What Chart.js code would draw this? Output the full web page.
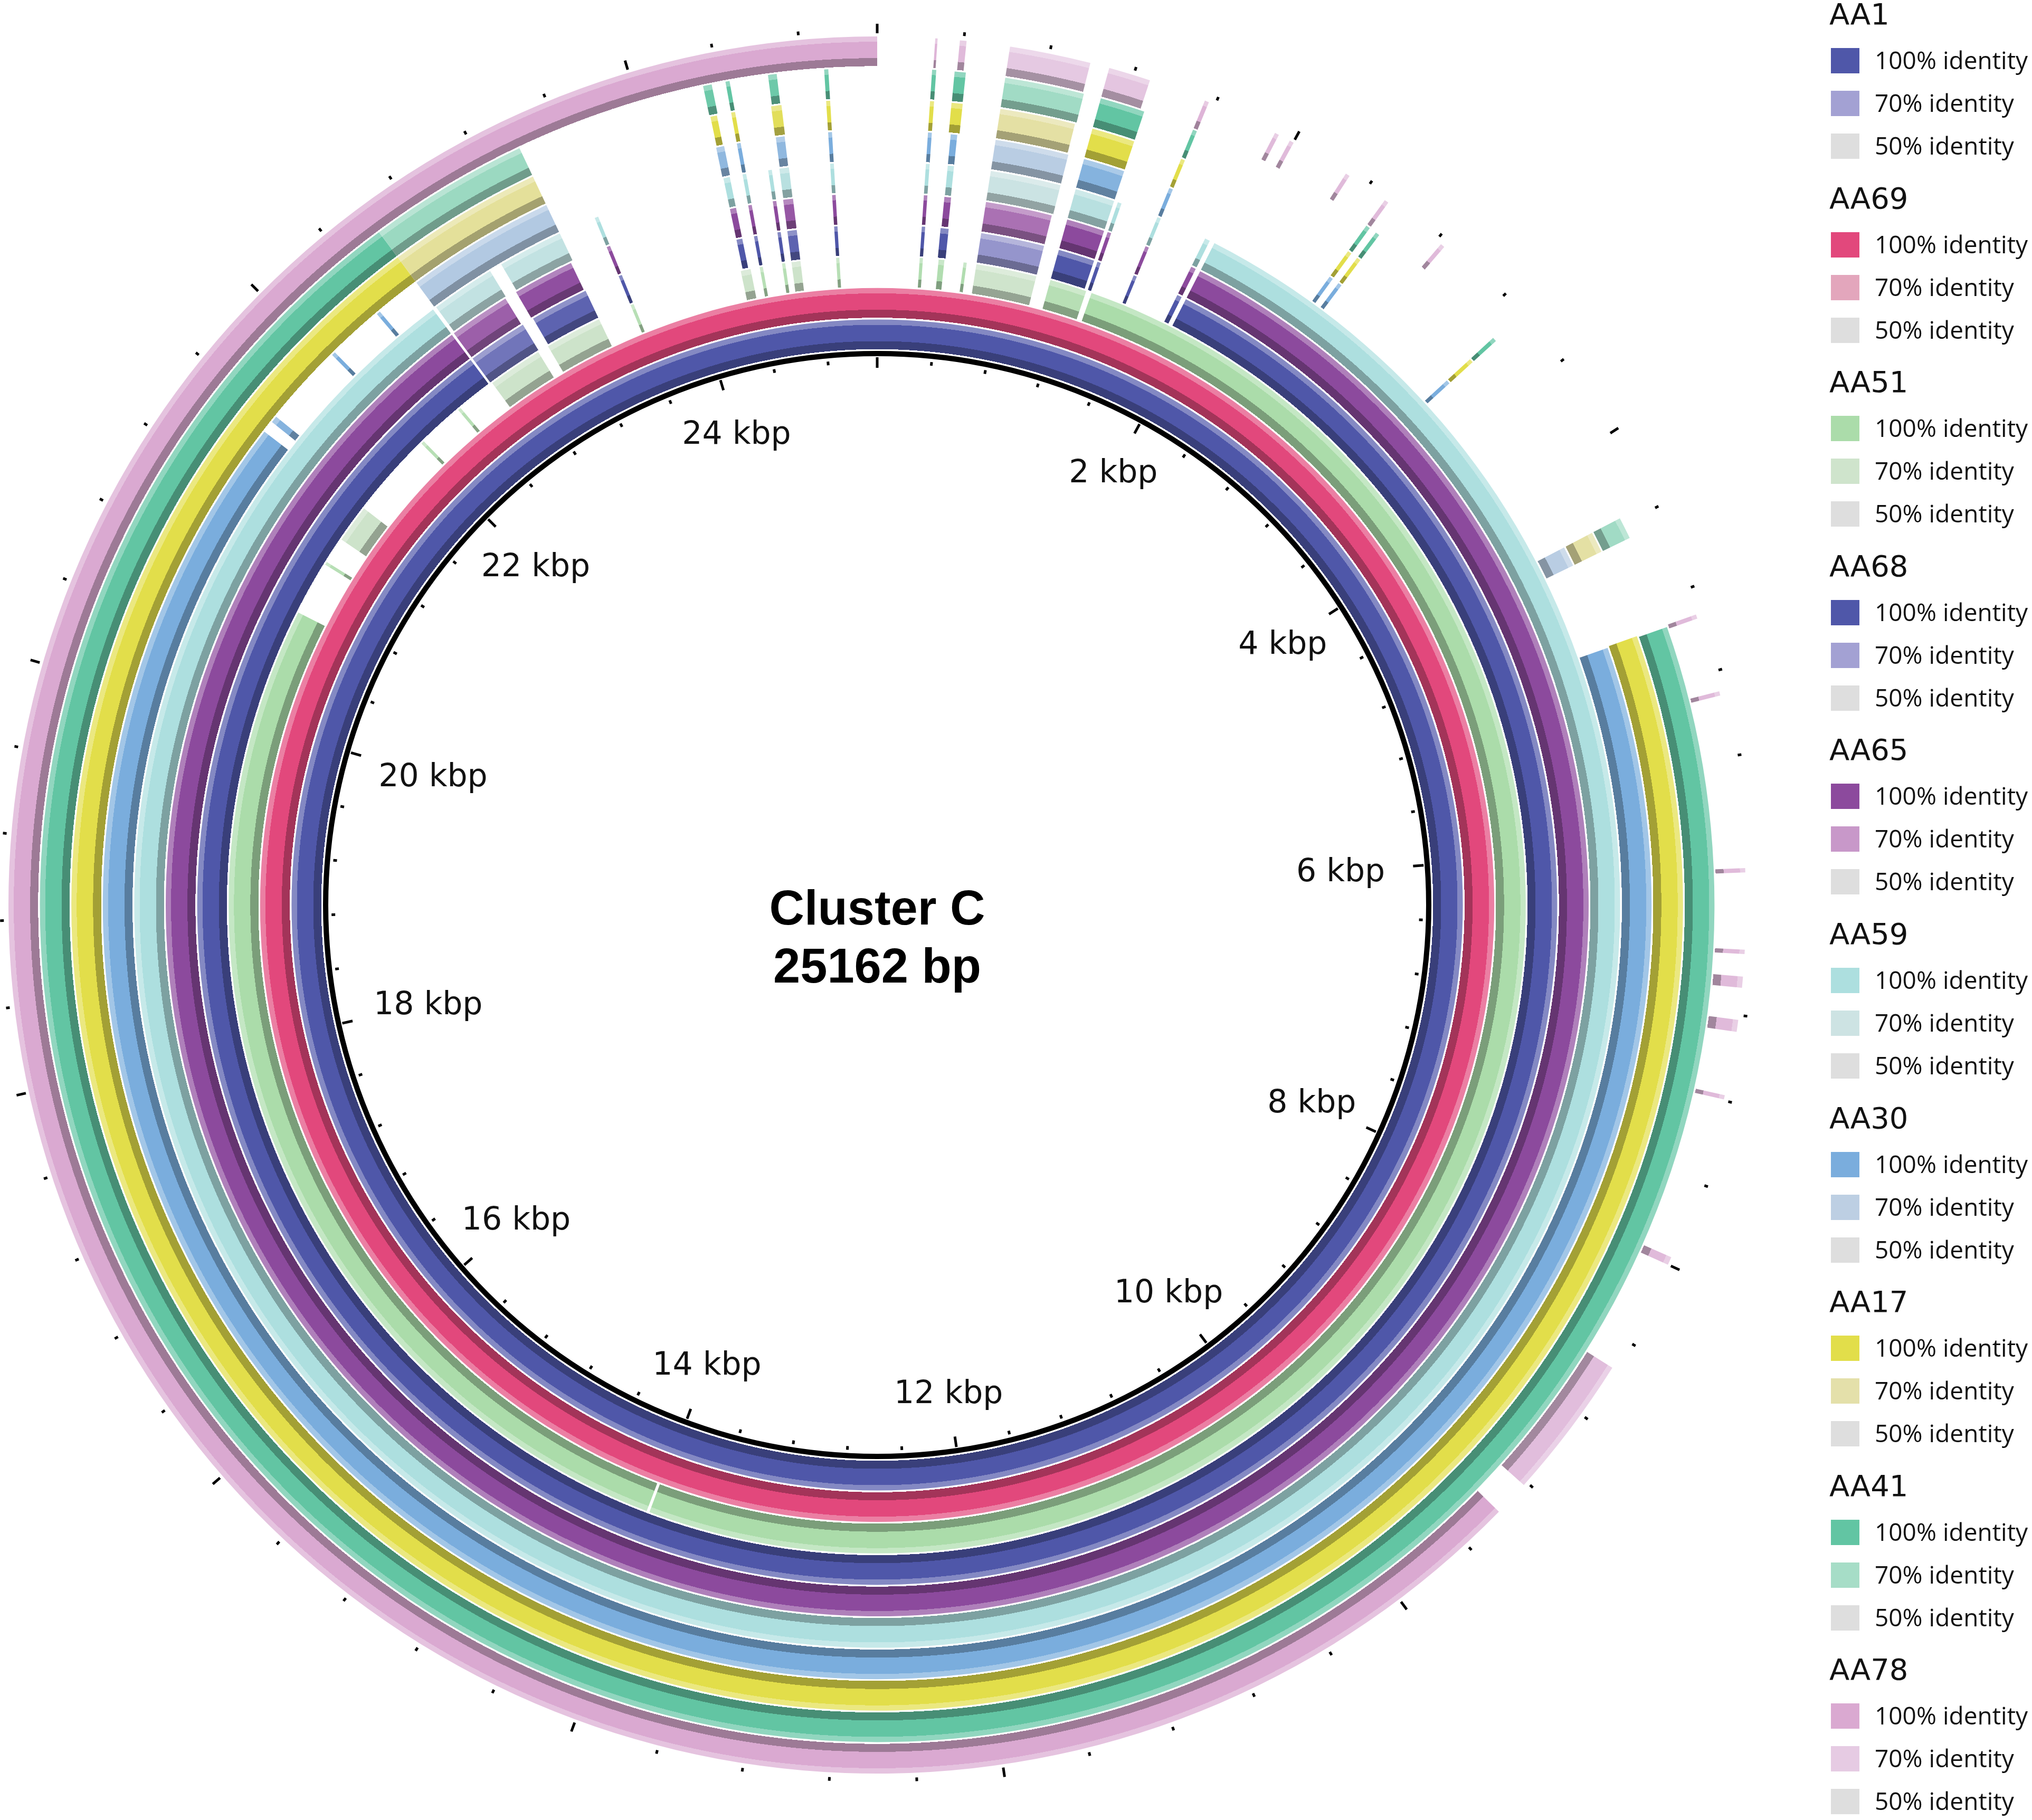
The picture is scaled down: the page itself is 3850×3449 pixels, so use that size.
<!DOCTYPE html>
<html>
<head>
<meta charset="utf-8">
<title>Cluster C - 25162 bp</title>
<script src="https://cdn.jsdelivr.net/npm/chart.js@4.4.0/dist/chart.umd.min.js"></script>
<style>
  html, body { margin: 0; padding: 0; background: #fff; }
  body { width: 3850px; height: 3449px; position: relative; overflow: hidden; }
  #wrap { position: absolute; left: 0; top: 0; width: 3850px; height: 3449px; }
  #legend { position: absolute; left: 0; top: 0; font-family: 'Open Sans', sans-serif; color: #111; }
  .lg-title { position: absolute; left: 3466px; font-family: 'DejaVu Sans', sans-serif; font-size: 56px; line-height: 56px; white-space: nowrap; }
  .lg-box { position: absolute; left: 3469px; width: 54px; height: 48px; }
  .lg-text { position: absolute; left: 3552px; font-size: 46px; line-height: 46px; white-space: nowrap; }
</style>
</head>
<body>
<div id="wrap"><canvas id="myChart"></canvas></div>
<div id="legend"></div>
<script>
const clusterName = 'Cluster C';
const genomeLength = 25162;

// rings, innermost first
const ringNames = ['AA1', 'AA69', 'AA51', 'AA68', 'AA65', 'AA59', 'AA30', 'AA17', 'AA41', 'AA78'];
const color100 = ['#4f57a9', '#e2487c', '#abdcaa', '#4f57a9', '#8c4a9d', '#addfdf', '#7aaddd', '#e2de4a', '#62c5a3', '#daa9d1'];
const color70 = ['#a3a1d3', '#e3a6bc', '#cfe4cc', '#a3a1d3', '#c898c9', '#cde3e3', '#bdcfe3', '#e4e0aa', '#a6ddc7', '#e6cbe3'];
const color50 = '#dedede';
const identityLevels = ['100% identity', '70% identity', '50% identity'];

// scale
const minorTickStep = 400;
const labelStep = 2000;
const labelPositions = [2000, 4000, 6000, 8000, 10000, 12000, 14000, 16000, 18000, 20000, 22000, 24000];
const tickLabels = ['2 kbp', '4 kbp', '6 kbp', '8 kbp', '10 kbp', '12 kbp', '14 kbp', '16 kbp', '18 kbp', '20 kbp', '22 kbp', '24 kbp'];
const outerTicksNotShown = [6000, 6400];

// BLAST hits: [start bp, end bp, identity %]
const aa1Hits = [[0, 25162, 100]];
const aa69Hits = [[0, 25162, 100]];
const aa51Hits = [
  [263, 283, 95], [380, 416, 95], [535, 555, 95], [615, 993, 70], [1083, 1314, 90],
  [1349, 14018, 100], [14036, 20745, 100], [21084, 21104, 90], [21269, 21507, 72],
  [22042, 22062, 90], [22349, 22369, 90], [22617, 22960, 72], [23030, 23387, 72],
  [23600, 23620, 90], [24313, 24375, 72], [24432, 24452, 90], [24572, 24592, 90],
  [24631, 24687, 72], [24908, 24928, 90]
];
const aa68Hits = [
  [263, 283, 100], [374, 422, 100], [615, 993, 75], [1083, 1300, 100], [1321, 1342, 100],
  [1549, 1569, 100], [1831, 1859, 100], [1887, 22596, 100], [22610, 22967, 88], [23037, 23387, 95],
  [23600, 23620, 100], [24327, 24362, 100], [24432, 24452, 100], [24572, 24592, 100],
  [24631, 24687, 95], [24908, 24928, 100]
];
const aa65Hits = [
  [263, 283, 100], [379, 417, 100], [615, 993, 85], [1083, 1300, 100], [1321, 1342, 100],
  [1549, 1569, 100], [1831, 1859, 100], [1887, 22596, 100], [22610, 22960, 92], [23030, 23380, 98],
  [23600, 23620, 100], [24327, 24362, 100], [24432, 24452, 100], [24572, 24592, 100],
  [24631, 24687, 95], [24908, 24928, 100]
];
const aa59Hits = [
  [263, 283, 100], [381, 415, 100], [615, 999, 72], [1083, 1300, 90], [1321, 1342, 100],
  [1549, 1569, 100], [1831, 1859, 100], [1887, 22596, 100], [22617, 22967, 80], [23037, 23394, 80],
  [23600, 23620, 100], [24327, 24362, 100], [24432, 24452, 100], [24572, 24592, 100],
  [24633, 24685, 90], [24908, 24928, 100]
];
const aa30Hits = [
  [263, 283, 100], [381, 415, 100], [615, 999, 72], [1083, 1300, 95], [1549, 1569, 100],
  [2499, 2519, 100], [2555, 2575, 100], [3310, 3330, 100], [4368, 4473, 72],
  [4935, 21506, 100], [21569, 21604, 95], [22035, 22055, 100], [22349, 22369, 100],
  [22610, 23394, 75], [24323, 24365, 90], [24432, 24452, 100], [24636, 24682, 90], [24908, 24928, 100]
];
const aa17Hits = [
  [263, 283, 100], [370, 426, 100], [615, 993, 72], [1083, 1300, 100], [1549, 1569, 100],
  [2499, 2519, 100], [2555, 2575, 100], [3310, 3330, 100], [4368, 4473, 72],
  [4928, 22610, 100], [22610, 23394, 75], [24327, 24360, 100], [24432, 24452, 100],
  [24633, 24685, 95], [24908, 24928, 100]
];
const aa41Hits = [
  [263, 283, 100], [371, 425, 100], [615, 999, 72], [1083, 1300, 100], [1549, 1569, 100],
  [2499, 2519, 100], [2555, 2575, 100], [3310, 3330, 100], [4368, 4473, 72],
  [4935, 22610, 100], [22610, 23394, 75], [24323, 24365, 95], [24432, 24452, 100],
  [24638, 24680, 95], [24908, 24928, 100]
];
const aa78Hits = [
  [268, 279, 90], [382, 413, 85], [615, 993, 72], [1083, 1279, 75], [1549, 1569, 90],
  [1905, 1925, 85], [1982, 2002, 85], [2282, 2302, 85], [2499, 2519, 85], [2828, 2848, 85],
  [4925, 4945, 85], [5295, 5315, 85], [6120, 6140, 85], [6497, 6517, 85], [6621, 6673, 85],
  [6822, 6878, 85], [7175, 7195, 85], [7963, 8001, 85], [8541, 9219, 82], [9387, 25162, 100]
];
const hitsByRing = [aa1Hits, aa69Hits, aa51Hits, aa68Hits, aa65Hits, aa59Hits, aa30Hits, aa17Hits, aa41Hits, aa78Hits];

// ring look
const ringWeight = 59.6;
const backboneWeight = 10;
const gapFrac = 0.055, darkFrac = 0.31, lightFrac = 0.83;

function hexToRgb(h) {
  const n = parseInt(h.slice(1), 16);
  return [(n >> 16) & 255, (n >> 8) & 255, n & 255];
}
function mix(a, b, t) { return a.map((v, i) => Math.round(v + (b[i] - v) * t)); }
function rgb(c) { return 'rgb(' + c[0] + ',' + c[1] + ',' + c[2] + ')'; }

function identityColor(ring, id) {
  const t = Math.min(Math.max((100 - id) / 30, 0), 1);
  return mix(hexToRgb(color100[ring]), hexToRgb(color70[ring]), t);
}

// turn hit list into doughnut slices (gap, hit, gap, ...)
function buildSegments(hits) {
  const sorted = hits.slice().sort((a, b) => a[0] - b[0]);
  const sizes = [], ids = [];
  let pos = 0;
  sorted.forEach(h => {
    if (h[0] > pos) { sizes.push(h[0] - pos); ids.push(null); }
    sizes.push(h[1] - Math.max(h[0], pos)); ids.push(h[2]);
    pos = h[1];
  });
  if (pos < genomeLength) { sizes.push(genomeLength - pos); ids.push(null); }
  return { sizes: sizes, ids: ids };
}

function ringFill(ring, ids) {
  return function (ctx) {
    const id = ids[ctx.dataIndex];
    if (id === null || id === undefined) return 'rgba(0,0,0,0)';
    const base = identityColor(ring, id);
    const chart = ctx.chart;
    const area = chart.chartArea;
    const ctrl = chart.getDatasetMeta(ctx.datasetIndex).controller;
    if (!area || !ctrl || !(ctrl.outerRadius > ctrl.innerRadius)) return rgb(base);
    const cx = (area.left + area.right) / 2, cy = (area.top + area.bottom) / 2;
    const g = chart.ctx.createRadialGradient(cx, cy, ctrl.innerRadius, cx, cy, ctrl.outerRadius);
    const clear = 'rgba(255,255,255,0)';
    const dark = rgb(mix(base, [0, 0, 0], 0.28));
    const light = rgb(mix(base, [255, 255, 255], 0.3));
    g.addColorStop(0, clear); g.addColorStop(gapFrac, clear);
    g.addColorStop(gapFrac, dark); g.addColorStop(darkFrac, dark);
    g.addColorStop(darkFrac, rgb(base)); g.addColorStop(lightFrac, rgb(base));
    g.addColorStop(lightFrac, light); g.addColorStop(1, light);
    return g;
  };
}

const datasets = [];
for (let r = ringNames.length - 1; r >= 0; r--) {
  const seg = buildSegments(hitsByRing[r]);
  datasets.push({ label: ringNames[r], data: seg.sizes, weight: ringWeight, backgroundColor: ringFill(r, seg.ids) });
}
datasets.push({ label: clusterName, data: [genomeLength], weight: backboneWeight, backgroundColor: '#000' });

// ticks, kbp labels and the title in the middle
const genomeScale = {
  id: 'genomeScale',
  afterDatasetsDraw(chart) {
    const c = chart.ctx, area = chart.chartArea;
    const cx = (area.left + area.right) / 2, cy = (area.top + area.bottom) / 2;
    const n = chart.data.datasets.length;
    const rBackbone = chart.getDatasetMeta(n - 1).controller.innerRadius;
    const rOuter = chart.getDatasetMeta(0).controller.outerRadius;
    const ang = p => -Math.PI / 2 + 2 * Math.PI * p / genomeLength;

    c.save();
    c.strokeStyle = '#000';
    c.lineCap = 'butt';
    function radial(a, r1, r2, w) {
      c.lineWidth = w;
      c.beginPath();
      c.moveTo(cx + r1 * Math.cos(a), cy + r1 * Math.sin(a));
      c.lineTo(cx + r2 * Math.cos(a), cy + r2 * Math.sin(a));
      c.stroke();
    }
    for (let p = 0; p < genomeLength; p += minorTickStep) {
      const a = ang(p);
      const showOuter = outerTicksNotShown.indexOf(p) < 0;
      if (p % labelStep === 0) {
        radial(a, rBackbone - 22, rBackbone - 2, 5);
        if (showOuter) radial(a, rOuter + 6, rOuter + 24, 5);
      } else {
        radial(a, rBackbone - 13, rBackbone - 6, 5);
        if (showOuter) radial(a, rOuter + 9, rOuter + 16, 5);
      }
    }

    c.fillStyle = '#111';
    c.font = '60px "DejaVu Sans"';
    c.textAlign = 'center';
    c.textBaseline = 'middle';
    const edge = rBackbone - 80;
    labelPositions.forEach((p, i) => {
      const a = ang(p);
      const w = c.measureText(tickLabels[i]).width, h = 44;
      const rc = edge - (Math.abs(Math.cos(a)) * w / 2 + Math.abs(Math.sin(a)) * h / 2) + 40 * Math.abs(Math.sin(2 * a));
      c.fillText(tickLabels[i], cx + rc * Math.cos(a), cy + rc * Math.sin(a) + 3);
    });

    c.fillStyle = '#000';
    c.font = 'bold 92px "Liberation Sans"';
    c.textBaseline = 'alphabetic';
    c.fillText(clusterName, cx, cy + 37);
    c.fillText(genomeLength + ' bp', cx, cy + 147);
    c.restore();
  }
};

const chart = new Chart(document.getElementById('myChart'), {
  type: 'doughnut',
  data: { labels: [], datasets: datasets },
  options: {
    responsive: true,
    maintainAspectRatio: false,
    animation: false,
    events: [],
    radius: 1646,
    cutout: (1040 / 1646 * 100) + '%',
    layout: { padding: { left: 0, right: 526, top: 0, bottom: 19 } },
    elements: { arc: { borderWidth: 0, spacing: 0, hoverOffset: 0 } },
    plugins: { legend: { display: false }, tooltip: { enabled: false } }
  },
  plugins: [genomeScale]
});

// legend on the right
const legendEl = document.getElementById('legend');
ringNames.forEach((name, k) => {
  const top0 = 29 + k * 348.6;
  const t = document.createElement('div');
  t.className = 'lg-title';
  t.style.top = (top0 - 30) + 'px';
  t.textContent = name;
  legendEl.appendChild(t);
  const boxColors = [color100[k], color70[k], color50];
  identityLevels.forEach((lvl, j) => {
    const yc = top0 + 86 + j * 81;
    const b = document.createElement('div');
    b.className = 'lg-box';
    b.style.top = (yc - 24) + 'px';
    b.style.background = boxColors[j];
    legendEl.appendChild(b);
    const s = document.createElement('div');
    s.className = 'lg-text';
    s.style.top = (yc - 25) + 'px';
    s.textContent = lvl;
    legendEl.appendChild(s);
  });
});
</script>
</body>
</html>
